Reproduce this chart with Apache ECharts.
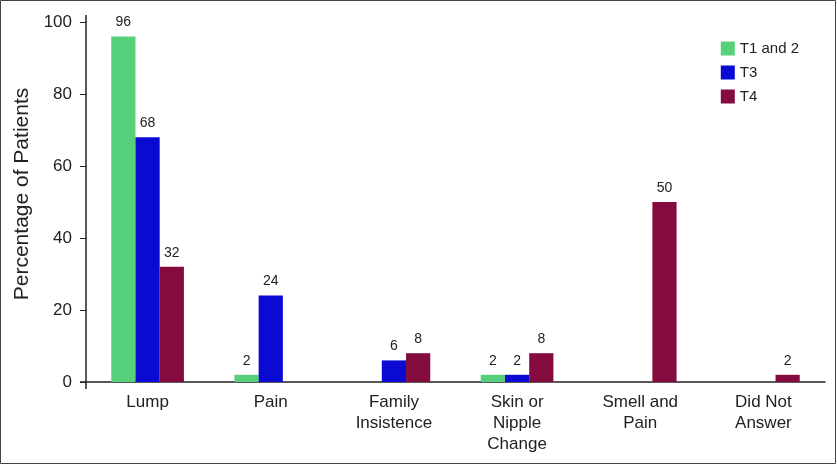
<!DOCTYPE html>
<html><head><meta charset="utf-8">
<script src="https://cdn.jsdelivr.net/npm/echarts@6/dist/echarts.min.js"></script>
<style>html,body{margin:0;padding:0;background:#fff}#c{width:837px;height:465px}</style>
</head><body><div id="c"></div>
<script>
const categories = ['Lump', 'Pain', 'Family\nInsistence', 'Skin or\nNipple\nChange', 'Smell and\nPain', 'Did Not\nAnswer'];
const seriesNames = ['T1 and 2', 'T3', 'T4'];
const t12 = [96, 2, null, 2, null, null];
const t3 = [68, 24, 6, 2, null, null];
const t4 = [32, null, 8, 8, 50, 2];
const yTicks = [0, 20, 40, 60, 80, 100];
const colors = ['#56d07a', '#0a0ad2', '#840b3e'];

const chart = echarts.init(document.getElementById('c'), null, {renderer: 'canvas'});
const font = 'Helvetica, Arial, "Liberation Sans", sans-serif';
const mk = (name, data, color) => ({
  name, type: 'bar', data, barGap: '0%', barCategoryGap: '41%',
  itemStyle: {color},
  label: {show: true, position: 'top', distance: 7, color: '#222', fontSize: 14, fontFamily: font},
  animation: false
});
chart.setOption({
  animation: false,
  textStyle: {fontFamily: font},
  grid: {left: 86, right: 12, top: 22, bottom: 83},
  legend: {
    orient: 'vertical', right: 33, top: 36, itemWidth: 14, itemHeight: 14, itemGap: 9,
    icon: 'rect', data: seriesNames,
    textStyle: {fontSize: 15, color: '#222', fontFamily: font}
  },
  xAxis: {
    type: 'category', data: categories,
    axisLine: {lineStyle: {color: '#222', width: 1.5}},
    axisTick: {show: false},
    axisLabel: {fontSize: 17, color: '#222', lineHeight: 21, margin: 10, interval: 0, fontFamily: font}
  },
  yAxis: {
    type: 'value', min: yTicks[0], max: yTicks[yTicks.length - 1], interval: 20,
    name: 'Percentage of Patients', nameLocation: 'middle', nameGap: 53,
    nameTextStyle: {fontSize: 21, color: '#222', fontFamily: font, padding: [0, 0, 0, 16]},
    axisLine: {show: true, lineStyle: {color: '#222', width: 1.5}},
    axisTick: {show: true, length: 6, lineStyle: {color: '#222'}},
    splitLine: {show: false},
    axisLabel: {fontSize: 17, color: '#222', margin: 14, fontFamily: font}
  },
  series: [mk(seriesNames[0], t12, colors[0]), mk(seriesNames[1], t3, colors[1]), mk(seriesNames[2], t4, colors[2])],
  graphic: [
    {type: 'rect', shape: {x: 0.5, y: 0.5, width: 835, height: 463}, style: {fill: 'none', stroke: '#444', lineWidth: 1}, silent: true},
    {type: 'line', shape: {x1: 86, y1: 15, x2: 86, y2: 22}, style: {stroke: '#222', lineWidth: 1.5}},
    {type: 'line', shape: {x1: 86, y1: 382, x2: 86, y2: 389}, style: {stroke: '#222', lineWidth: 1.5}},
    {type: 'line', shape: {x1: 80, y1: 382, x2: 86, y2: 382}, style: {stroke: '#222', lineWidth: 1.5}}
  ]
});
</script></body></html>
